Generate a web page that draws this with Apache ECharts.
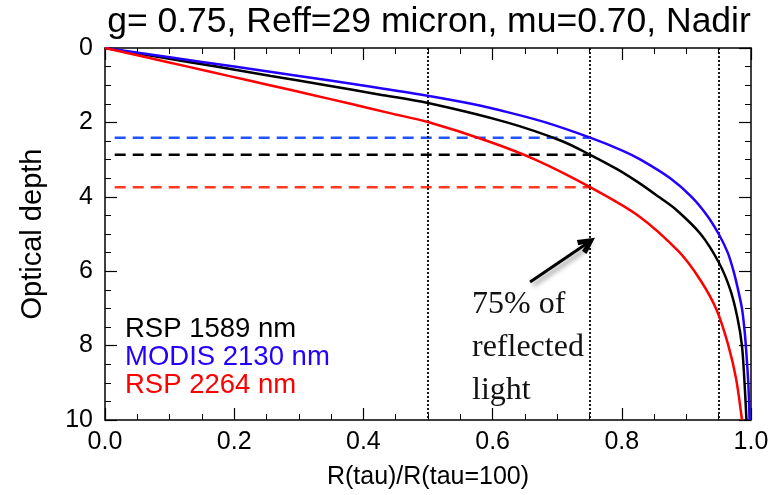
<!DOCTYPE html>
<html>
<head>
<meta charset="utf-8">
<script src="https://cdn.jsdelivr.net/npm/echarts@6/dist/echarts.min.js"></script>
<style>
  html, body { margin: 0; padding: 0; background: #fff; }
  #chart { width: 782px; height: 495px; }
</style>
</head>
<body>
<div id="chart"></div>
<script>
// Fraction of reflected light R(tau)/R(tau=100) reached at each optical depth
const rspShortX = [0, 0.086, 0.172, 0.257, 0.342, 0.424, 0.50, 0.622, 0.707, 0.751, 0.792, 0.826, 0.857, 0.885, 0.922, 0.950, 0.968, 0.979, 0.986, 0.990, 0.993];
const rspShortY = [0, 0.25, 0.5, 0.75, 1.0, 1.25, 1.48, 2.0, 2.5, 2.87, 3.25, 3.62, 4.0, 4.36, 5.0, 5.76, 6.5, 7.25, 8.0, 9.0, 10];

const modisX = [0, 0.10, 0.20, 0.30, 0.397, 0.488, 0.567, 0.629, 0.682, 0.751, 0.800, 0.829, 0.875, 0.908, 0.932, 0.950, 0.964, 0.973, 0.980, 0.986, 0.9895, 0.992, 0.9958, 0.9978];
const modisY = [0, 0.25, 0.5, 0.75, 1.0, 1.25, 1.5, 1.75, 2.0, 2.41, 2.75, 3.0, 3.5, 4.0, 4.5, 5.0, 5.5, 6.0, 6.5, 7.0, 7.5, 8.0, 9.0, 10];

const rspLongX = [0, 0.064, 0.128, 0.191, 0.255, 0.318, 0.380, 0.441, 0.50, 0.592, 0.666, 0.751, 0.825, 0.888, 0.922, 0.947, 0.965, 0.977, 0.986];
const rspLongY = [0, 0.25, 0.5, 0.75, 1.0, 1.25, 1.5, 1.75, 1.99, 2.5, 3.0, 3.74, 4.5, 5.47, 6.25, 7.05, 8.0, 8.9, 10];

// Series names and the optical depth reached at 75% of reflected light
const seriesNames = ['RSP 1589 nm', 'MODIS 2130 nm', 'RSP 2264 nm'];
const tau75 = [2.87, 2.41, 3.74];
const fraction75 = 0.75;
const dashStart = 0.015;

// Reference fractions drawn as dotted verticals
const refFractions = [0.5, 0.75, 0.95];

// Annotation arrow (fraction, optical depth)
const arrowTail = [0.658, 6.29];
const arrowTip = [0.747, 5.24];

// Tick labels
const xTicks = ['0.0', '0.2', '0.4', '0.6', '0.8', '1.0'];
const yTicks = ['0', '2', '4', '6', '8', '10'];

const curveColors = ['#000000', '#2200ff', '#ff0000'];
const dashColors = ['#000000', '#1f55ff', '#ff3a1c'];

function pairs(xs, ys) { return xs.map((x, i) => [x, ys[i]]); }
const curves = [pairs(rspShortX, rspShortY), pairs(modisX, modisY), pairs(rspLongX, rspLongY)];

const chart = echarts.init(document.getElementById('chart'));

const sans = 'Liberation Sans';
const axisLine = { show: true, onZero: false, lineStyle: { color: '#000', width: 1.5 } };

function xAxisDef(pos, withLabels) {
  return {
    type: 'value', position: pos, min: 0, max: 1, interval: 0.2,
    axisLine: axisLine,
    axisTick: { show: true, inside: true, length: 12, lineStyle: { color: '#000', width: 1.2 } },
    minorTick: { show: true, splitNumber: 4, length: 6, lineStyle: { color: '#000', width: 1 } },
    splitLine: { show: false },
    axisLabel: withLabels ? {
      show: true, margin: 10, color: '#000', fontFamily: sans, fontSize: 25,
      formatter: v => xTicks[Math.round(v / 0.2)]
    } : { show: false },
    name: withLabels ? 'R(tau)/R(tau=100)' : '',
    nameLocation: 'middle', nameGap: 45,
    nameTextStyle: { color: '#000', fontFamily: sans, fontSize: 25 }
  };
}

function yAxisDef(pos, withLabels) {
  return {
    type: 'value', position: pos, inverse: true, min: 0, max: 10, interval: 2,
    axisLine: axisLine,
    axisTick: { show: true, inside: true, length: 12, lineStyle: { color: '#000', width: 1.2 } },
    minorTick: { show: true, splitNumber: 4, length: 6, lineStyle: { color: '#000', width: 1 } },
    splitLine: { show: false },
    axisLabel: withLabels ? {
      show: true, margin: 12, color: '#000', fontFamily: sans, fontSize: 25,
      formatter: v => yTicks[Math.round(v / 2)]
    } : { show: false },
    name: withLabels ? 'Optical depth' : '',
    nameLocation: 'middle', nameGap: 58,
    nameTextStyle: { color: '#000', fontFamily: sans, fontSize: 29 }
  };
}

const series = [];

seriesNames.forEach((name, i) => {
  series.push({
    name: name, type: 'line', data: curves[i], smooth: 0.3,
    showSymbol: false, symbol: 'none', clip: true,
    lineStyle: { color: curveColors[i], width: 2.5 },
    itemStyle: { color: curveColors[i] },
    z: 5
  });
});

seriesNames.forEach((name, i) => {
  series.push({
    name: name + ' 75%', type: 'line',
    data: [[dashStart, tau75[i]], [fraction75, tau75[i]]],
    showSymbol: false, symbol: 'none',
    lineStyle: { color: dashColors[i], width: 2.5, type: [11, 7] },
    z: 4
  });
});

// Dotted reference verticals and the annotation arrow
series.push({
  name: 'guides', type: 'line', data: [], silent: true,
  markLine: {
    silent: true, animation: false,
    label: { show: false },
    data: refFractions.map(f => ({
      xAxis: f, symbol: 'none',
      lineStyle: { color: '#000', width: 1.8, type: [2, 2] }
    })).concat([[
      { coord: arrowTail, symbol: 'none' },
      {
        coord: arrowTip,
        symbol: 'path://M10,0 L20,17 L14,19 L10,10 L6,19 L0,17 Z',
        symbolSize: [17, 18],
        lineStyle: {
          color: '#000', width: 3, type: 'solid',
          shadowBlur: 5, shadowColor: 'rgba(0,0,0,0.45)', shadowOffsetX: 3, shadowOffsetY: 3
        },
        itemStyle: { color: '#000' }
      }
    ]]),
    symbol: ['none', 'none']
  }
});

chart.setOption({
  animation: false,
  backgroundColor: '#fff',
  title: {
    text: 'g= 0.75, Reff=29 micron, mu=0.70, Nadir',
    left: 429, top: 4, textAlign: 'center', padding: 0,
    textStyle: { color: '#000', fontFamily: sans, fontSize: 35.5, fontWeight: 'normal' }
  },
  legend: {
    orient: 'vertical', left: 115, top: 310,
    icon: 'none', itemWidth: 0, itemHeight: 23, itemGap: 0,
    selectedMode: false,
    data: seriesNames.map((n, i) => ({ name: n, textStyle: { color: curveColors[i] } })),
    textStyle: { fontFamily: sans, fontSize: 27.5, lineHeight: 23 }
  },
  grid: { left: 105, right: 31, top: 48, bottom: 73, containLabel: false },
  xAxis: [xAxisDef('bottom', true), xAxisDef('top', false)],
  yAxis: [yAxisDef('left', true), yAxisDef('right', false)],
  graphic: [{
    type: 'text', left: 472, top: 283, z: 10,
    style: {
      text: '75% of\nreflected\nlight',
      font: '32px "Liberation Serif"', lineHeight: 43, fill: '#111'
    }
  }],
  series: series
});
</script>
</body>
</html>
